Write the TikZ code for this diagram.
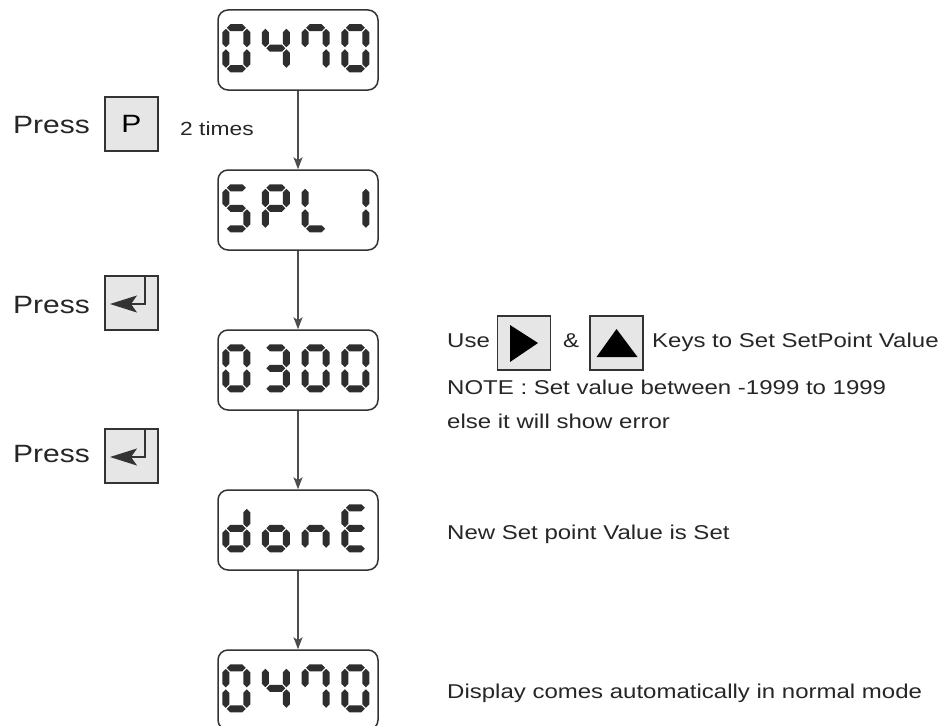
\documentclass[tikz,border=0pt]{standalone}
\usepackage{fontspec}
\setmainfont{Liberation Sans}[FakeStretch=1.2]
\usetikzlibrary{arrows.meta,positioning}

\definecolor{keyfill}{HTML}{E6E6E6}
\definecolor{inkgray}{HTML}{333333}

% one segment of a seven segment digit (digit is 28 wide, 48 high)
\newcommand\hseg[1]{\fill[segfill] (4.5,#1) -- (8,#1-3.5) -- (20,#1-3.5) -- (23.5,#1) -- (20,#1+3.5) -- (8,#1+3.5) -- cycle;}
\newcommand\vseg[3]{\fill[segfill] (#1,#2) -- (#1+3.5,#2+3.5) -- (#1+3.5,#3-3.5) -- (#1,#3) -- (#1-3.5,#3-3.5) -- (#1-3.5,#2+3.5) -- cycle;}
\newcommand\sega{\hseg{3.5}}
\newcommand\segg{\hseg{24}}
\newcommand\segd{\hseg{44.5}}
\newcommand\segf{\vseg{3.5}{4.5}{23}}
\newcommand\sege{\vseg{3.5}{25}{43.5}}
\newcommand\segb{\vseg{24.5}{4.5}{23}}
\newcommand\segc{\vseg{24.5}{25}{43.5}}
% display, position, segments
\newcommand\showdigit[3]{%
  \begin{scope}[shift={([shift={(5+39.7*#2,15)}]#1.north west)}]
    \foreach \s in {#3} {\csname seg\s\endcsname}
  \end{scope}}

\begin{document}
\begin{tikzpicture}[x=1pt,y=-1pt,
    display/.style={draw=inkgray, line width=1.5pt, rounded corners=10pt,
      minimum width=160pt, minimum height=80pt, inner sep=0pt},
    keybox/.style={draw=inkgray, fill=keyfill, line width=1.2pt,
      minimum width=53pt, minimum height=54pt, inner sep=0pt,
      font=\fontsize{25}{30}\selectfont},
    txt/.style={anchor=base west, inner sep=0pt, text=black!85},
    bigtxt/.style={txt, font=\fontsize{25}{30}\selectfont},
    smalltxt/.style={txt, font=\fontsize{20}{24}\selectfont},
    flow/.style={draw=black!70, line width=1.2pt,
      -{Stealth[length=12pt,width=9pt,inset=3pt]}},
    enter/.style={draw=inkgray, line width=1.5pt,
      -{Stealth[length=27pt,width=17pt,inset=6pt]}},
    segfill/.style={fill=black!82},
  ]
  \useasboundingbox (0,0) rectangle (939,725);

  % displays
  \foreach \n in {1,...,5}
    \node[display] (d\n) at (298,50+160*\n-160) {};
  \foreach \a/\b in {1/2,2/3,3/4,4/5}
    \draw[flow] (d\a) -- (d\b);

  % 0470
  \showdigit{d1}{0}{a,b,c,d,e,f}
  \showdigit{d1}{1}{f,g,b,c}
  \showdigit{d1}{2}{a,b,c,f}
  \showdigit{d1}{3}{a,b,c,d,e,f}
  % SPL1
  \showdigit{d2}{0}{a,f,g,c,d}
  \showdigit{d2}{1}{a,b,f,g,e}
  \showdigit{d2}{2}{f,e,d}
  \showdigit{d2}{3}{b,c}
  % 0300
  \showdigit{d3}{0}{a,b,c,d,e,f}
  \showdigit{d3}{1}{a,b,g,c,d}
  \showdigit{d3}{2}{a,b,c,d,e,f}
  \showdigit{d3}{3}{a,b,c,d,e,f}
  % donE
  \showdigit{d4}{0}{b,c,d,e,g}
  \showdigit{d4}{1}{c,d,e,g}
  \showdigit{d4}{2}{c,e,g}
  \showdigit{d4}{3}{a,f,g,e,d}
  % 0470
  \showdigit{d5}{0}{a,b,c,d,e,f}
  \showdigit{d5}{1}{f,g,b,c}
  \showdigit{d5}{2}{a,b,c,f}
  \showdigit{d5}{3}{a,b,c,d,e,f}

  % keys on the left
  \node[bigtxt] (press1) at (13,133) {Press};
  \node[keybox] (pkey) at (131.5,124) {P};
  \node[txt, font=\fontsize{19}{23}\selectfont] (times) at (180,135) {2 times};
  \node[bigtxt] (press2) at (13,313) {Press};
  \node[keybox] (ent1) at (131.5,303) {};
  \node[bigtxt] (press3) at (13,462) {Press};
  \node[keybox] (ent2) at (131.5,456) {};
  \foreach \k in {ent1,ent2}
    \draw[enter] ([xshift=13.5pt]\k.north) |- ([xshift=-21.5pt,yshift=-1pt]\k.center);

  % keys and notes on the right
  \node[smalltxt] (use) at (447,347) {Use};
  \node[keybox] (rkey) at (524,343) {};
  \fill[black] ([shift={(-14,-18)}]rkey.center) -- ([shift={(14,0)}]rkey.center)
    -- ([shift={(-14,19)}]rkey.center) -- cycle;
  \node[smalltxt] (amp) at (563,347) {\&};
  \node[keybox] (ukey) at (616.5,343) {};
  \fill[black] ([shift={(0,-14)}]ukey.center) -- ([shift={(21,14)}]ukey.center)
    -- ([shift={(-20,14)}]ukey.center) -- cycle;
  \node[smalltxt] (keys) at (652,347) {Keys to Set SetPoint Value};
  \node[smalltxt] (note) at (447,394) {NOTE : Set value between -1999 to 1999};
  \node[smalltxt] (error) at (447,428) {else it will show error};
  \node[smalltxt] (done) at (447,539) {New Set point Value is Set};
  \node[smalltxt] (normal) at (447,698) {Display comes automatically in normal mode};
\end{tikzpicture}
\end{document}
